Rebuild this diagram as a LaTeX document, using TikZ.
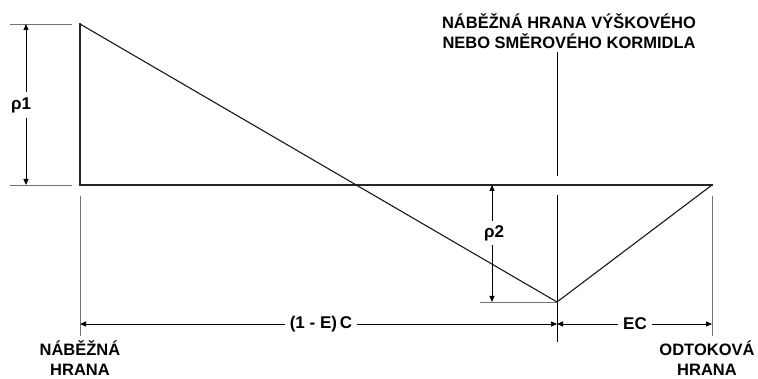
\documentclass[tikz,border=0pt]{standalone}
\usepackage{fontspec}
\setmainfont{Liberation Sans}
\usetikzlibrary{arrows.meta}
\begin{document}
\begin{tikzpicture}[x=1pt,y=-1pt,
  lbl/.style={font=\bfseries\fontsize{16.5}{20}\selectfont, inner sep=0.5pt, align=center},
  ext/.style={draw=black!55, line width=0.9pt},
  dim/.style={draw=black, line width=0.9pt, {Triangle[length=6pt,width=5pt]}-{Triangle[length=6pt,width=5pt]}},
  heavy/.style={draw=black!85, line width=2pt},
  thin/.style={draw=black!90, line width=1.1pt}]
\useasboundingbox (0,0) rectangle (758,379);
% key points
\coordinate (LE) at (80,185);
\coordinate (LT) at (80,24);
\coordinate (H) at (557,302);
\coordinate (TE) at (712,185);
% main shape
\draw[heavy, line cap=rect] (LT) -- (LE) -- (TE);
\draw[thin] (LT) -- (H) -- (TE);
% extension lines
\draw[ext] (10,24) -- (72,24);
\draw[ext] (10,185) -- (72,185);
\draw[ext] (80,196) -- (80,336);
\draw[ext] (712,196) -- (712,336);
\draw[ext] (480,302) -- (H);
\draw[draw=black, line width=1pt] (557,52) -- (557,176);
\draw[draw=black, line width=1pt] (557,195) -- (557,342);
% rho1
\coordinate (r1a) at (26,24);
\coordinate (r1b) at (26,185);
\draw[dim] (r1a) -- (r1b);
\node[lbl, fill=white, inner sep=5pt, font=\bfseries\fontsize{17}{20}\selectfont] (rho1) at (21,105) {ρ1};
% rho2
\coordinate (r2a) at (492,185);
\coordinate (r2b) at (492,302);
\draw[dim] (r2a) -- (r2b);
\node[lbl, fill=white, inner sep=4pt, font=\bfseries\fontsize{17}{20}\selectfont] (rho2) at (494,233) {ρ2};
% chord dims
\coordinate (d1) at (80,324);
\coordinate (d2) at (557,324);
\coordinate (d3) at (712,324);
\draw[dim] (d1) -- (d2);
\draw[dim] (d2) -- (d3);
\node[lbl, fill=white, inner sep=5pt, font=\bfseries\fontsize{17}{20}\selectfont] (c1) at (321,324) {(1 - E)\,C};
\node[lbl, fill=white, inner sep=5pt, font=\bfseries\fontsize{17}{20}\selectfont] (c2) at (635,324) {EC};
% labels
\node[lbl] (top) at (569,31) {NÁBĚŽNÁ HRANA VÝŠKOVÉHO\\NEBO SMĚROVÉHO KORMIDLA};
\node[lbl] (le) at (80,358) {NÁBĚŽNÁ\\HRANA};
\node[lbl] (te) at (707,358) {ODTOKOVÁ\\HRANA};
\end{tikzpicture}
\end{document}
